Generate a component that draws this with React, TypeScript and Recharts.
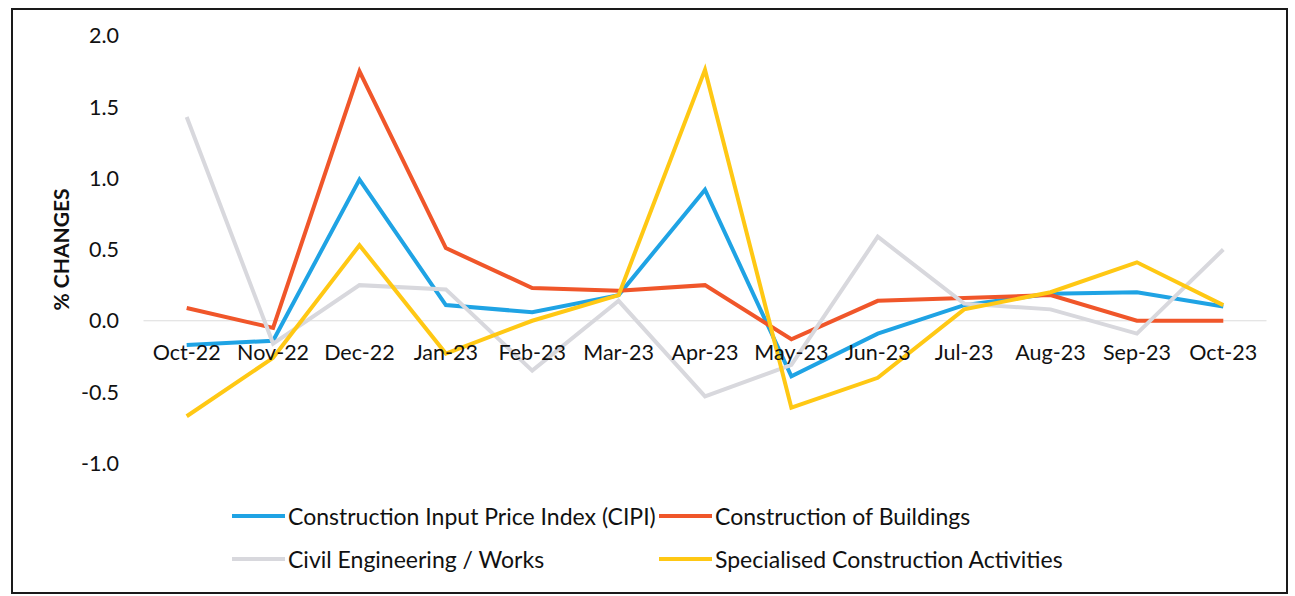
import React from 'react';
import { LineChart, Line, XAxis, YAxis, ReferenceLine, Legend } from 'recharts';

const months = ['Oct-22', 'Nov-22', 'Dec-22', 'Jan-23', 'Feb-23', 'Mar-23', 'Apr-23', 'May-23', 'Jun-23', 'Jul-23', 'Aug-23', 'Sep-23', 'Oct-23'];
const cipi = [-0.17, -0.14, 0.99, 0.11, 0.06, 0.18, 0.92, -0.39, -0.09, 0.11, 0.19, 0.2, 0.1];
const buildings = [0.09, -0.05, 1.75, 0.51, 0.23, 0.21, 0.25, -0.13, 0.14, 0.16, 0.18, 0.0, 0.0];
const civil = [1.43, -0.16, 0.25, 0.22, -0.35, 0.14, -0.53, -0.31, 0.59, 0.12, 0.08, -0.09, 0.5];
const specialised = [-0.67, -0.26, 0.53, -0.23, 0.0, 0.18, 1.76, -0.61, -0.4, 0.08, 0.2, 0.41, 0.11];
const yTicks = [-1, -0.5, 0, 0.5, 1, 1.5, 2];

const seriesNames = ['Construction Input Price Index (CIPI)', 'Construction of Buildings', 'Civil Engineering / Works', 'Specialised Construction Activities'];
const seriesKeys = ['cipi', 'buildings', 'civil', 'specialised'];
const seriesColors = ['#1FA3E4', '#F0562A', '#D8D8DD', '#FFC814'];

const data = months.map((m, i) => ({
  month: m,
  cipi: cipi[i],
  buildings: buildings[i],
  civil: civil[i],
  specialised: specialised[i],
}));

const FONT = 'Lato, "Open Sans", sans-serif';

const XTick = (props: any) => {
  const { x, y, payload } = props;
  return (
    <text x={x} y={y} dy={-103} textAnchor="middle" fill="#111" fontSize={21.5} fontFamily={FONT}>
      {payload.value}
    </text>
  );
};

const YLabel = (props: any) => {
  const vb = props.viewBox;
  const cx = vb.x + 60;
  const cy = vb.y + vb.height / 2;
  return (
    <text x={cx} y={cy} transform={`rotate(-90 ${cx} ${cy})`} textAnchor="middle" dominantBaseline="central" fill="#111" fontSize={21} fontWeight={700} fontFamily={FONT}>
      % CHANGES
    </text>
  );
};

const LegendContent = () => (
  <div style={{ display: 'grid', gridTemplateColumns: '427px auto', paddingLeft: 232, fontFamily: FONT }}>
    {seriesNames.map((n, i) => (
      <div key={n} style={{ display: 'flex', alignItems: 'center', height: 43 }}>
        <span style={{ display: 'inline-block', width: 53, height: 4, background: seriesColors[i], marginRight: 3 }} />
        <span style={{ fontSize: 23, color: '#111', whiteSpace: 'nowrap' }}>{n}</span>
      </div>
    ))}
  </div>
);

export default function App() {
  return (
    <div style={{ position: 'absolute', left: 0, top: 0, width: 1295, height: 596, background: '#fff', fontFamily: FONT }}>
      <div style={{ position: 'absolute', left: 11, top: 8, width: 1273, height: 582, border: '2px solid #1a1a1a' }} />
      <div style={{ position: 'absolute', left: 0, top: 0 }}>
        <LineChart width={1295} height={596} data={data} margin={{ top: 35.7, right: 28.5, bottom: 102.7, left: 0 }}>
          <ReferenceLine y={0} stroke="#dcdcdc" strokeWidth={1} />
          <XAxis dataKey="month" height={30} axisLine={false} tickLine={false} tickSize={0} tickMargin={0} tick={<XTick />} interval={0} padding={{ left: 43.2, right: 43.2 }} />
          <YAxis
            domain={[-1, 2]}
            ticks={yTicks}
            width={143.5}
            axisLine={false}
            tickLine={false}
            tickSize={0}
            tickMargin={24.5}
            tickFormatter={(v: number) => v.toFixed(1)}
            tick={{ fill: '#111', fontSize: 21.5, fontFamily: FONT }}
            label={<YLabel />}
          />
          {seriesKeys.map((k, i) => (
            <Line key={k} type="linear" dataKey={k} name={seriesNames[i]} stroke={seriesColors[i]} strokeWidth={4} dot={false} activeDot={false} isAnimationActive={false} strokeLinejoin="miter" />
          ))}
          <Legend layout="vertical" align="center" verticalAlign="middle" content={<LegendContent />} wrapperStyle={{ left: 0, top: 494.5, width: 1295 }} />
        </LineChart>
      </div>
    </div>
  );
}
